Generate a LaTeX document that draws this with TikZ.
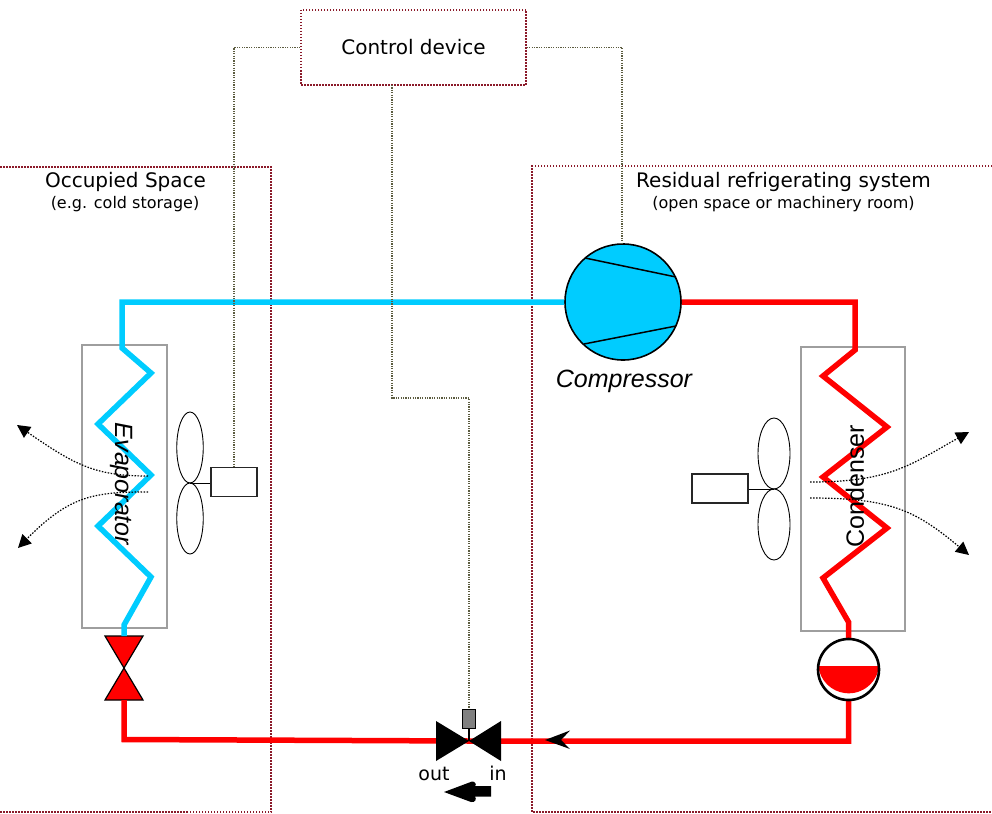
\documentclass[tikz,border=0pt]{standalone}
\usepackage{fontspec}
\setmainfont{DejaVu Sans}
\newfontfamily\arialit{Liberation Sans}[ItalicFont=* Italic]
\usetikzlibrary{arrows.meta,calc}
\definecolor{zoneRed}{HTML}{8B1A2A}
\definecolor{ctrlLine}{HTML}{5C5C40}
\definecolor{coldBlue}{HTML}{00CCFF}
\definecolor{hotRed}{HTML}{FF0000}
\tikzset{
  zone/.style={draw=zoneRed,line width=1.4pt,dash pattern=on 1.5pt off 1.5pt},
  ctrl/.style={draw=ctrlLine,line width=1.2pt,dash pattern=on 1.2pt off 1.2pt},
  coldpipe/.style={draw=coldBlue,line width=5.5pt,line join=miter},
  hotpipe/.style={draw=hotRed,line width=5.5pt,line join=miter},
  coil/.style={draw=black!38,line width=1.6pt,minimum width=#1,inner sep=0pt},
  blade/.style={draw=black,line width=0.9pt,fill=white,ellipse},
  motor/.style={draw=black!85,line width=1.3pt,fill=white,inner sep=0pt},
  air/.style={draw=black,line width=1.2pt,dash pattern=on 1.5pt off 1.5pt,-{Triangle[length=13pt,width=13pt,fill=black]}},
  zonelabel/.style={font=\fontsize{20}{24}\selectfont,inner sep=0pt},
  zonesub/.style={font=\fontsize{16}{19}\selectfont,inner sep=0pt},
  partname/.style={font=\arialit\itshape\fontsize{25}{30}\selectfont,inner sep=0pt},
  valvelabel/.style={font=\fontsize{19}{23}\selectfont,inner sep=0pt},
}
\usetikzlibrary{shapes.geometric}
\begin{document}
\begin{tikzpicture}[x=1pt,y=-1pt]
\useasboundingbox (0,0) rectangle (992,813);
% zones
\draw[zone] (0,167) -- (271,167) -- (271,812) -- (0,812);
\draw[zone] (992,166) -- (532,166) -- (532,812) -- (992,812);
\node[zonelabel] (occ) at (125.5,182) {Occupied Space};
\node[zonesub] (occsub) at (125,204) {(e.g. cold storage)};
\node[zonelabel] (res) at (783.5,182) {Residual refrigerating system};
\node[zonesub] (ressub) at (783.5,204) {(open space or machinery room)};
% coil boxes
\node[draw=black!38,line width=1.6pt,minimum width=85pt,minimum height=283pt,inner sep=0pt] (evapbox) at (124.5,486.5) {};
\node[draw=black!38,line width=1.6pt,minimum width=104pt,minimum height=284pt,inner sep=0pt] (condbox) at (853,489) {};
% control device
\node[zone,draw,minimum width=225pt,minimum height=75pt,inner sep=0pt,font=\fontsize{20}{24}\selectfont] (ctl) at (413.5,47.5) {Control device};
% compressor
\node[circle,draw=black,line width=1.6pt,fill=coldBlue,minimum size=116pt,inner sep=0pt] (comp) at (623,302) {};
\coordinate (c1) at (585,258); \coordinate (c2) at (676,277);
\coordinate (c3) at (584,344); \coordinate (c4) at (676,326);
\draw[line width=1.5pt] (c1) -- (c2);
\draw[line width=1.5pt] (c3) -- (c4);
\node[partname] (compname) at (624,381.5) {Compressor};
% receiver
\node[circle,minimum size=62pt,inner sep=0pt] (recv) at (848.5,669.5) {};
% valve red
\coordinate (vt) at (124,668);
\draw[fill=hotRed,draw=black,line width=1.2pt] (105,636) -- (143,636) -- (vt) -- cycle;
\draw[fill=hotRed,draw=black,line width=1.2pt] (105,700) -- (143,700) -- (vt) -- cycle;
% expansion valve
\coordinate (ev) at (469,741);
% pipes
\coordinate (b1) at (122,302);
\draw[coldpipe] (comp.west) -- (b1) -- (122,348) -- (151,373) -- (98,424) -- (151,475) -- (98,526) -- (151,577) -- (124,625) -- (124,636);
\draw[hotpipe] (comp.east) -- (855,302) -- (855,350) -- (823,376) -- (887,427) -- (823,477) -- (887,528) -- (823,578) -- (848.5,622) -- (recv.north);
\draw[hotpipe] (recv.south) -- (848.5,741) -- (ev) -- (124,739.5) -- (124,700);
% receiver body
\fill[hotRed] (818,666) -- (879,666) arc[start angle=6,end angle=174,x radius=30.5pt,y radius=-30.5pt] -- cycle;
\draw[black,line width=2.6pt] (recv.center) circle[radius=30.5pt];
% flow barb
\fill[black] (545,740) -- (570,730.5) -- (561,740) -- (570,749) -- cycle;
% valve body
\fill[black] (436,721) -- (ev) -- (436,761) -- cycle;
\fill[black] (501,721) -- (ev) -- (501,761) -- cycle;
\node[draw=black,line width=1.5pt,fill=black!50,minimum width=13pt,minimum height=19pt,inner sep=0pt] (act) at (469,719) {};
\draw[line width=2.4pt] (act.south) -- (ev);
\node[valvelabel] (outl) at (434,774) {out};
\node[valvelabel] (inl) at (498,773) {in};
\coordinate (fa) at (491,792); \coordinate (fb) at (444,792);
\fill[black] (444,792) -- (472,781.5) .. controls (475,781) and (477,785) .. (475,786) -- (491,786) -- (491,796.5) -- (475,796.5) .. controls (477,799) and (475,803) .. (471,802) -- cycle;
% control lines
\draw[ctrl] (ctl.west) -- (234,47.5) -- (234,467);
\draw[ctrl] (ctl.east) -- (622,47.5) -- (622,244);
\draw[ctrl] (392,85) -- (392,398) -- (469,398) -- (act.north);
% fans
\node[blade,minimum width=26.5pt,minimum height=71pt,inner sep=0pt] (fl1) at (190,447.5) {};
\node[blade,minimum width=26.5pt,minimum height=71pt,inner sep=0pt] (fl2) at (190,518.5) {};
\node[motor,minimum width=46pt,minimum height=29pt] (ml) at (234,482) {};
\draw[line width=1.2pt] (fl1.south) -- (ml.west |- fl1.south);
\node[blade,minimum width=32pt,minimum height=71pt,inner sep=0pt] (fr1) at (774,453.5) {};
\node[blade,minimum width=32pt,minimum height=71pt,inner sep=0pt] (fr2) at (774,524.5) {};
\node[motor,minimum width=56pt,minimum height=29pt] (mr) at (720,488.5) {};
\draw[line width=1.2pt] (fr1.south) -- (mr.east |- fr1.south);
% air
\coordinate (al1) at (148,476); \coordinate (al2) at (148,492);
\coordinate (al3) at (17,425); \coordinate (al4) at (18,548);
\coordinate (ar1) at (810,482); \coordinate (ar2) at (810,498);
\coordinate (ar3) at (969,432); \coordinate (ar4) at (969,555);
\draw[air] (al1) .. controls (95,476) and (75,465) .. (al3);
\draw[air] (al2) .. controls (95,492) and (70,495) .. (al4);
\draw[air] (ar1) .. controls (890,482) and (910,465) .. (ar3);
\draw[air] (ar2) .. controls (890,498) and (915,510) .. (ar4);
% names
\node[partname,rotate=-90] (evapname) at (122,484) {Evaporator};
\node[partname,font=\arialit\fontsize{25}{30}\selectfont,rotate=90] (condname) at (855,486) {Condenser};
\end{tikzpicture}
\end{document}
